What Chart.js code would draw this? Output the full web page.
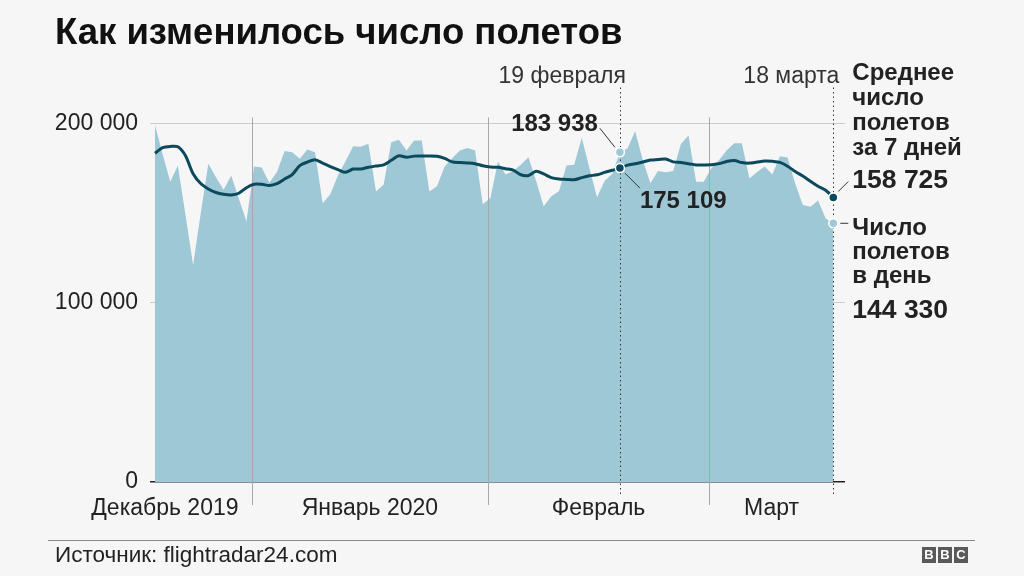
<!DOCTYPE html>
<html><head><meta charset="utf-8">
<script src="https://cdn.jsdelivr.net/npm/chart.js@4"></script>
<style>
body{margin:0;background:#f6f6f6;}
#wrap{position:relative;width:1024px;height:576px;background:#f6f6f6;overflow:hidden;font-family:"Liberation Sans",Arial,Helvetica,sans-serif;}
#c{position:absolute;left:0;top:0;}
#title{position:absolute;left:55px;top:14px;font-size:36.5px;line-height:36.5px;font-weight:bold;color:#111;white-space:nowrap;}
#rule{position:absolute;left:48px;top:540px;width:927px;height:1px;background:#8a8a8a;}
#source{position:absolute;left:55px;top:544px;font-size:22.5px;line-height:22.5px;color:#222;white-space:nowrap;}
#bbc{position:absolute;left:922px;top:547px;display:flex;gap:2px;}
#bbc span{display:block;width:14px;height:16px;background:#5a5a5a;color:#fff;font:bold 13px/16px "Liberation Sans",Arial,sans-serif;text-align:center;}
</style></head>
<body><div id="wrap">
<canvas id="c" width="1024" height="576"></canvas>
<div id="title">Как изменилось число полетов</div>
<div id="rule"></div>
<div id="source">Источник: flightradar24.com</div>
<div id="bbc"><span>B</span><span>B</span><span>C</span></div>
</div>
<script>
// Days: 20 Dec 2019 .. 18 Mar 2020 (index 0..89)
const startDate = '2019-12-20';
const dailyFlights = [199000,183000,167500,176500,149000,121000,150000,177500,170000,163000,171000,158000,145500,176000,175500,167000,173000,184700,184000,180300,185500,184000,155500,160500,171000,179000,187300,187000,188700,162000,166000,189500,191000,185000,190500,190500,162000,165000,176000,180600,185000,186400,185000,155000,158500,178600,171500,173500,177000,181200,168000,153800,159400,162200,176500,177000,192000,175000,158800,168000,172000,183938,186000,195800,179600,166700,173500,172800,173500,188500,193300,167500,167500,175000,179500,185000,189000,189000,169300,173000,176000,171500,181700,181000,166500,154500,153500,157000,147000,144330];
const avg7 = [183400,186500,187200,187000,182000,172000,166500,163500,161500,160500,160100,161100,164200,166100,166100,165400,166400,169000,171500,176500,178500,179800,177900,176000,174300,172800,174600,174600,175600,176300,176900,179500,182000,181200,181800,181900,181900,181700,180500,178600,178200,178000,177600,176400,175700,175600,174800,174000,171400,171000,173300,171900,169800,169000,168800,168600,169800,170800,171400,172700,173900,175109,176800,177500,178500,179600,179900,180200,178600,178200,177600,176900,176900,177000,177600,178800,179400,178200,177900,178500,179100,178900,178300,176200,173200,170700,167800,165000,162800,158725];
const yTicks = [0, 100000, 200000];
const monthLabels = ['Декабрь 2019','Январь 2020','Февраль','Март'];
const monthLabelAt = [1.3, 28.2, 58.2, 80.9];     // day-index positions
const monthBoundaries = [12.7, 43.7, 72.7];        // day-index positions
const highlightIdx = [61, 89];
const highlightDates = ['19 февраля','18 марта'];
const seriesNames = ['Среднее\nчисло\nполетов\nза 7 дней','Число\nполетов\nв день'];

const fmt = v => String(v).replace(/\B(?=(\d{3})+(?!\d))/g,' ');
const FONT = '"Liberation Sans", Arial, Helvetica, sans-serif';
const AREA = '#9ec8d6', LINE = '#0b4a5c';

const xyDaily = dailyFlights.map((v,i)=>({x:i,y:v}));
const xyAvg = avg7.map((v,i)=>({x:i,y:v}));

function drawLines(ctx, text, x, y, lh, align){
  ctx.textAlign = align || 'left';
  text.split('\n').forEach((t,i)=>ctx.fillText(t, x, y + i*lh));
}

const annot = {
  id:'annot',
  afterDatasetDraw(chart,args){
    if(args.index!==1) return;
    const {ctx, chartArea:a, scales:{x}} = chart;
    ctx.save();
    ctx.strokeStyle = '#a8a8a8'; ctx.lineWidth = 1;
    monthBoundaries.forEach(b=>{
      const px = Math.round(x.getPixelForValue(b))+0.5;
      ctx.beginPath(); ctx.moveTo(px, a.top-6); ctx.lineTo(px, a.bottom+23); ctx.stroke();
    });
    ctx.strokeStyle = '#333'; ctx.setLineDash([1.5,3]);
    highlightIdx.forEach(h=>{
      const px = Math.round(x.getPixelForValue(h))+0.5;
      ctx.beginPath(); ctx.moveTo(px, a.top-36); ctx.lineTo(px, a.bottom+12); ctx.stroke();
    });
    ctx.restore();
  },
  afterDatasetsDraw(chart){
    const {ctx, chartArea:a, scales:{x,y}} = chart;
    ctx.save();
    // month labels
    ctx.fillStyle = '#222'; ctx.font = '23px '+FONT; ctx.textAlign='center'; ctx.textBaseline='alphabetic';
    monthLabels.forEach((m,i)=>ctx.fillText(m, x.getPixelForValue(monthLabelAt[i]), a.bottom+33));
    // date labels
    ctx.fillStyle = '#333'; ctx.textAlign='right';
    highlightIdx.forEach((h,i)=>ctx.fillText(highlightDates[i], x.getPixelForValue(h)+6, a.top-41));
    // dots
    highlightIdx.forEach(h=>{
      const px = x.getPixelForValue(h);
      [[dailyFlights[h],AREA],[avg7[h],LINE]].forEach(([v,c])=>{
        ctx.beginPath(); ctx.arc(px, y.getPixelForValue(v), 4.5, 0, Math.PI*2);
        ctx.fillStyle=c; ctx.fill(); ctx.lineWidth=1.5; ctx.strokeStyle='#fff'; ctx.setLineDash([]); ctx.stroke();
      });
    });
    // Feb 19 labels
    const h0 = highlightIdx[0], px0 = x.getPixelForValue(h0);
    const yD0 = y.getPixelForValue(dailyFlights[h0]), yA0 = y.getPixelForValue(avg7[h0]);
    ctx.strokeStyle='#333'; ctx.lineWidth=1;
    ctx.beginPath(); ctx.moveTo(px0-20, yD0-24); ctx.lineTo(px0-5, yD0-5); ctx.stroke();
    ctx.beginPath(); ctx.moveTo(px0+5, yA0+5); ctx.lineTo(px0+20, yA0+20); ctx.stroke();
    ctx.fillStyle='#222'; ctx.font='bold 24px '+FONT;
    ctx.textAlign='right'; ctx.fillText(fmt(dailyFlights[h0]), px0-22, yD0-21);
    ctx.textAlign='left'; ctx.fillText(fmt(avg7[h0]), px0+20, yA0+40);
    // end labels
    const h1 = highlightIdx[1], px1 = x.getPixelForValue(h1);
    const yD1 = y.getPixelForValue(dailyFlights[h1]), yA1 = y.getPixelForValue(avg7[h1]);
    ctx.beginPath(); ctx.moveTo(px1+5, yA1-6); ctx.lineTo(px1+15, yA1-16); ctx.stroke();
    ctx.beginPath(); ctx.moveTo(px1+7, yD1); ctx.lineTo(px1+15, yD1); ctx.stroke();
    const tx = px1+19;
    ctx.font='bold 24px '+FONT;
    drawLines(ctx, seriesNames[0], tx, 80, 25, 'left');
    drawLines(ctx, seriesNames[1], tx, 235, 24, 'left');
    ctx.font='bold 26.5px '+FONT;
    ctx.fillText(fmt(avg7[h1]), tx, 188);
    ctx.fillText(fmt(dailyFlights[h1]), tx, 318);
    ctx.restore();
  }
};

new Chart(document.getElementById('c'), {
  type:'line',
  data:{datasets:[
    {label:'avg', data:xyAvg, borderColor:LINE, borderWidth:3, pointRadius:0, tension:0.3, fill:false},
    {label:'daily', data:xyDaily, backgroundColor:AREA, borderWidth:0, borderColor:AREA, pointRadius:0, tension:0, fill:'origin'}
  ]},
  options:{
    responsive:false, animation:false, devicePixelRatio:1,
    layout:{padding:{left:0, right:179, top:123.5, bottom:94}},
    plugins:{legend:{display:false}, tooltip:{enabled:false}},
    scales:{
      x:{type:'linear', display:false, min:-0.656, max:90.535},
      y:{min:0, max:200000,
        afterFit(s){ s.width = 150; },
        border:{display:false},
        grid:{drawTicks:false, color:c=>c.tick.value===0?'#222':'#cccccc', lineWidth:c=>c.tick.value===0?1.5:1},
        ticks:{padding:12, color:'#222', font:{family:FONT, size:23},
          callback:v=>yTicks.includes(v)?fmt(v):null, stepSize:100000}
      }
    }
  },
  plugins:[annot]
});
</script>
</body></html>
